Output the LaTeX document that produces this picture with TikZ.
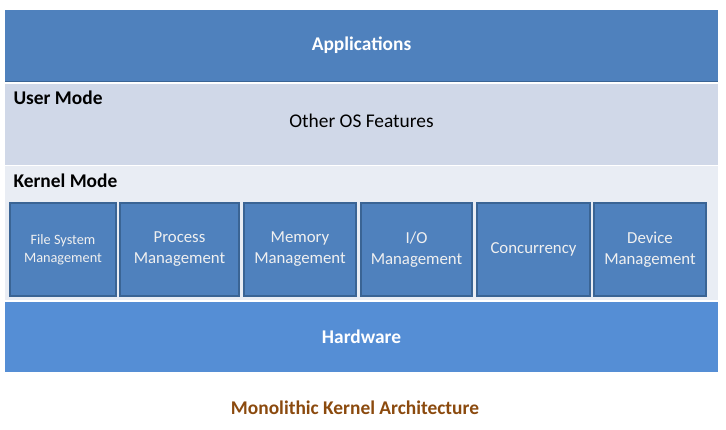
\documentclass[tikz,border=0pt]{standalone}
\usepackage{fontspec}
\setmainfont{Carlito}
\definecolor{appblue}{HTML}{4F81BD}
\definecolor{edgeblue}{HTML}{3A6494}
\definecolor{userband}{HTML}{D0D8E8}
\definecolor{kernband}{HTML}{E9EDF4}
\definecolor{hwblue}{HTML}{558ED5}
\definecolor{capbrown}{HTML}{8B4A0E}
\begin{document}
\begin{tikzpicture}[x=1pt,y=-1pt,
  band/.style={rectangle, inner sep=0pt, minimum width=713pt},
  module/.style={rectangle, inner sep=0pt, fill=appblue, draw=edgeblue, line width=1.2pt,
    minimum height=93pt, text=white!94!black, align=center,
    font=\fontsize{16.8}{21}\selectfont},
  title/.style={font=\fontsize{19.4}{23}\selectfont\bfseries},
]
\useasboundingbox (0,0) rectangle (726,430);
\node[band, fill=appblue, minimum height=71pt] (apps) at (361.5,45.5){};
\draw[edgeblue, line width=1pt] (apps.south west) -- (apps.south east);
\node[title, text=white] (appstext) at (apps.center){Applications};
\node[band, fill=userband, minimum height=81pt] (user) at (361.5,124.5){};
\node[band, fill=kernband, minimum height=134pt] (kern) at (361.5,233){};
\node[title, anchor=west] (usermode) at (10,98){User Mode};
\node[font=\fontsize{19.4}{23}\selectfont] (other) at (361.5,121){Other OS Features};
\node[title, anchor=west] (kernmode) at (10,181){Kernel Mode};
\node[module, minimum width=106pt, font=\fontsize{14.3}{18}\selectfont] (fsm) at (63,249.5){File System\\Management};
\node[module, minimum width=119pt] (pm) at (179.5,249.5){Process\\Management};
\node[module, minimum width=112pt] (mm) at (300,249.5){Memory\\Management};
\node[module, minimum width=111pt] (iom) at (416.5,249.5){I/O\\Management};
\node[module, minimum width=113pt] (conc) at (533.5,249.5){Concurrency};
\node[module, minimum width=112pt] (dm) at (650,249.5){Device\\Management};
\node[band, fill=hwblue, minimum height=70pt] (hw) at (361.5,337){};
\node[title, text=white] (hwtext) at (hw.center){Hardware};
\node[title, text=capbrown] (caption) at (355,408){Monolithic Kernel Architecture};
\end{tikzpicture}
\end{document}
